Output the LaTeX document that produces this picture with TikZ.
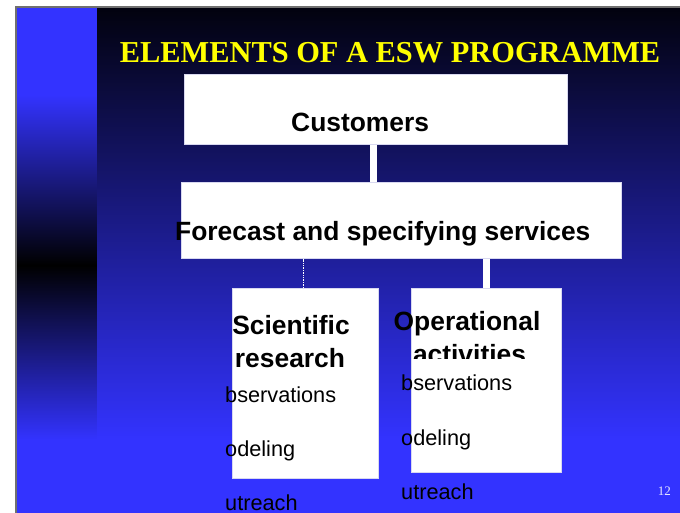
\documentclass[tikz,border=0pt]{standalone}
\usepackage{fontspec}
\setmainfont{Liberation Serif}
\setsansfont{Liberation Sans}
\usetikzlibrary{positioning,calc}
\definecolor{slBlue}{HTML}{3333FF}
\definecolor{slNight}{HTML}{02020E}
\definecolor{slYellow}{HTML}{FFFF00}
\definecolor{slFrame}{HTML}{707070}
\definecolor{slEdge}{HTML}{D8D8F0}

\begin{document}
\begin{tikzpicture}[
  x=1bp, y=-1bp,
  box/.style  ={draw=slEdge, fill=white, line width=0.6bp, inner sep=0pt, anchor=north west},
  head/.style ={inner sep=0pt, text=black, font=\sffamily\bfseries\fontsize{26.4bp}{33bp}\selectfont},
  item/.style ={inner sep=0pt, anchor=base west, text=black, font=\sffamily\fontsize{21.7bp}{26bp}\selectfont},
  bar/.style  ={draw=white, line width=7bp},
  dots/.style ={draw=white, line width=1.6bp, dash pattern=on 1.4bp off 1bp},
]

% ---- the slide ground: a bright side strip and a dark-to-bright main field
\useasboundingbox (0,0) rectangle (680,513);
\fill[white] (0,0) rectangle (680,513);
\fill[slBlue] (16,7) rectangle (97,95);
\shade[top color=slBlue, bottom color=black] (16,95) rectangle (97,265);
\shade[top color=black, bottom color=slBlue] (16,265) rectangle (97,440);
\fill[slBlue] (16,440) rectangle (97,513);
\shade[top color=slNight, bottom color=slBlue] (97,7) rectangle (680,440);
\fill[slBlue] (97,440) rectangle (680,513);
\draw[slFrame, line width=1.2bp] (16,513) -- (16,7) -- (680,7);

\node[anchor=base, inner sep=0pt, text=slYellow,
      font=\rmfamily\bfseries\fontsize{30.4bp}{36bp}\selectfont] (title) at (390,63)
  {ELEMENTS OF A ESW PROGRAMME};

% ---- the boxes
\node[box, minimum width=383bp, minimum height=70bp] (cust) at (184,74) {};
\node[box, minimum width=440bp, minimum height=76bp] (fore) at (181,182) {};
\node[box, minimum width=146bp, minimum height=190bp] (sci) at (232,288) {};
\node[box, minimum width=150bp, minimum height=184bp] (ops) at (411,288) {};

\draw[bar] ([xshift=-2bp]cust.south) -- ([xshift=-2bp]cust.south |- fore.north);
\draw[dots] ([xshift=-2bp]sci.north) -- ([xshift=-2bp]sci.north |- fore.south);
\draw[bar] (ops.north) -- (ops.north |- fore.south);

% ---- the texts, set where the slide sets them (some run past their box)
\node[head, anchor=base west] (custT) at (291,132) {Customers};
\node[head, anchor=base west] (foreT) at (175,241) {Forecast and specifying services};

\node[head, anchor=base] (sciA) at (291,334) {Scientific};
\node[head, anchor=base] (sciB) at (290,367) {research};
\node[head, anchor=base] (opsA) at (467,330) {Operational};
\begin{scope}
  \clip (380,300) rectangle (600,358);
  \node[head, anchor=base] (opsB) at (469.5,363) {activities};
\end{scope}

\node[item] (sciO) at (225,402) {bservations};
\node[item] (sciM) at (225,456) {odeling};
\node[item] (sciU) at (225,510) {utreach};
\node[item] (opsO) at (401,390) {bservations};
\node[item] (opsM) at (401,445) {odeling};
\node[item] (opsU) at (401,499) {utreach};

\node[anchor=base east, inner sep=0pt, text=white!88!slBlue,
      font=\rmfamily\fontsize{13bp}{15bp}\selectfont] (page) at (671,495) {12};

\end{tikzpicture}
\end{document}
